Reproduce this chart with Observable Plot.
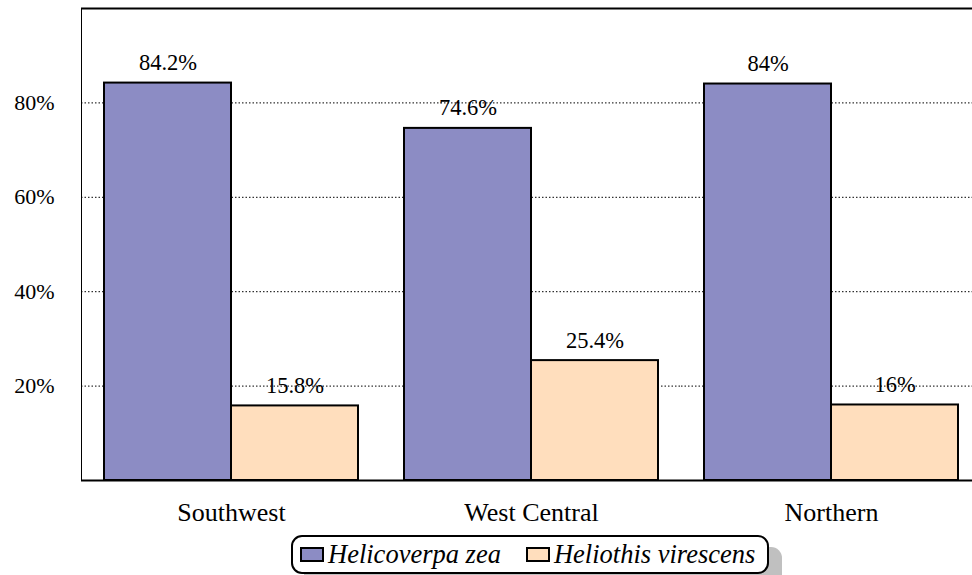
<!DOCTYPE html>
<html><head><meta charset="utf-8">
<script src="https://cdn.jsdelivr.net/npm/d3@7"></script>
<script src="https://cdn.jsdelivr.net/npm/@observablehq/plot@0.6"></script>
<style>
body{margin:0;background:#fff;font-family:'Liberation Serif',serif;}
#wrap{width:972px;height:575px;overflow:hidden;position:relative;background:#fff}
#chart svg{max-width:none !important}
#legend{position:absolute;left:291px;top:535px;border:2px solid #000;border-radius:11px;background:#fff;box-shadow:13px 12px 0 #c0c0c0;display:flex;align-items:center;padding-left:7px;box-sizing:border-box;width:478px;height:39px}
.item{display:flex;align-items:center;margin-right:25px;font-family:'Liberation Serif',serif;font-style:italic;font-size:26.5px;white-space:nowrap}
.sw{width:20px;height:11px;border:2px solid #000;margin-right:4px}
</style></head><body><div id="wrap"><div id="chart"></div><div id="legend"></div></div>
<script>
const regions = ["Southwest", "West Central", "Northern"];
const species = ["Helicoverpa zea", "Heliothis virescens"];
const zeaValues = [84.2, 74.6, 84];
const virescensValues = [15.8, 25.4, 16];
const yTicks = [20, 40, 60, 80];
const colors = ["#8c8cc4", "#ffdebd"];

const rows = regions.flatMap((r, i) => [
  {region: r, species: species[0], value: zeaValues[i]},
  {region: r, species: species[1], value: virescensValues[i]}
]);

const serif = "'Liberation Serif', serif";
const plot = Plot.plot({
  width: 982, height: 530,
  marginLeft: 80, marginRight: 0, marginTop: 8, marginBottom: 50,
  style: {fontFamily: serif, fontSize: "22px", color: "#000", background: "#fff", overflow: "visible", maxWidth: "none"},
  facet: {data: rows, x: "region"},
  fx: {domain: regions, padding: 0, label: null, tickSize: 0, tickPadding: 22},
  x: {domain: species, axis: null, paddingInner: 0, paddingOuter: 0.176},
  y: {domain: [0, 100], ticks: yTicks, tickFormat: d => d + "%", tickSize: 0, tickPadding: 27, label: null, line: true},
  color: {domain: species, range: colors},
  marks: [
    Plot.ruleY(yTicks, {stroke: "#000", strokeDasharray: "1.5,2", strokeWidth: 1}),
    Plot.ruleY([0, 100], {stroke: "#000", strokeWidth: 2}),
    Plot.barY(rows, {x: "species", y: "value", fill: "species", stroke: "#000", strokeWidth: 2}),
    Plot.text(rows, {x: "species", y: "value", text: d => d.value + "%", dy: -13, lineAnchor: "bottom", fontSize: 22.5, fill: "#000"})
  ]
});
document.getElementById("chart").appendChild(plot);
// larger category labels, thicker left axis line
d3.select(plot).selectAll('[aria-label^="fx-axis"] text').style("font-size", "26px");
d3.select(plot).selectAll('[aria-label^="y-axis"] line, [aria-label^="y-axis"] path').attr("stroke-width", 2);

const legend = document.getElementById("legend");
species.forEach((s, i) => {
  const item = document.createElement("div");
  item.className = "item";
  const sw = document.createElement("div");
  sw.className = "sw";
  sw.style.background = colors[i];
  item.appendChild(sw);
  const t = document.createElement("span");
  t.textContent = s;
  item.appendChild(t);
  legend.appendChild(item);
});
</script></body></html>
